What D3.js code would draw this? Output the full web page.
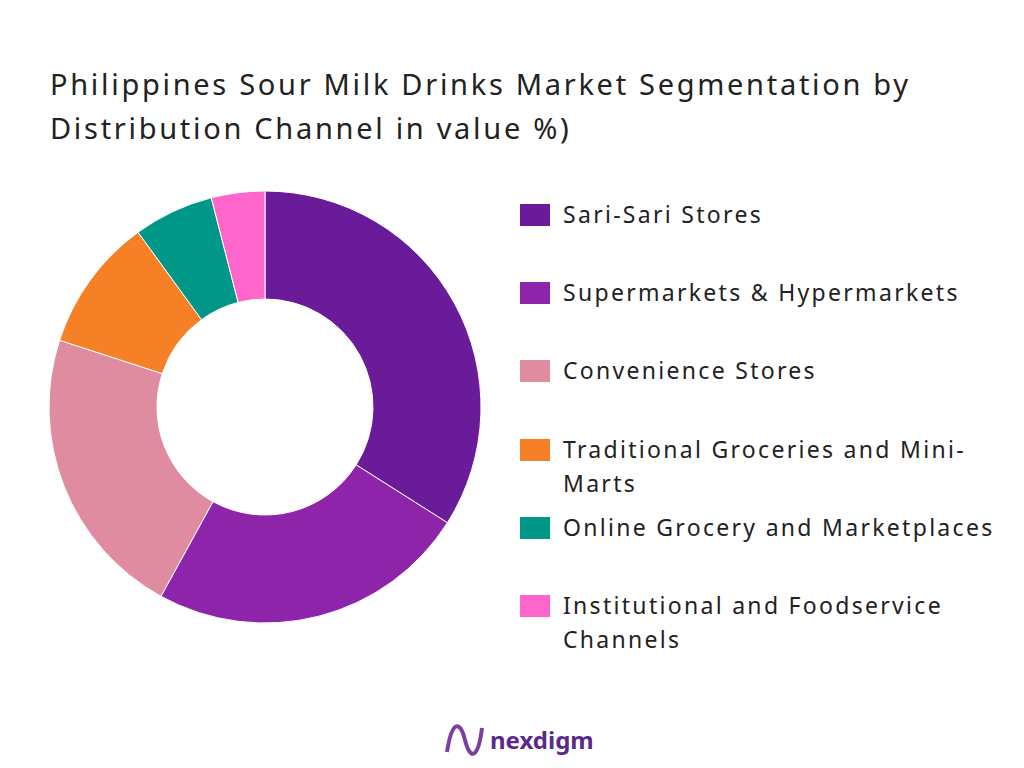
<!DOCTYPE html><html><head><meta charset="utf-8">
<script src="https://cdn.jsdelivr.net/npm/d3@7"></script>
<style>body{margin:0;background:#fff;}svg{display:block;font-family:"Noto Sans",sans-serif;}</style></head><body>
<svg id="c" width="1024" height="768"></svg>
<script>
const categories=["Sari-Sari Stores","Supermarkets & Hypermarkets","Convenience Stores","Traditional Groceries and Mini-Marts","Online Grocery and Marketplaces","Institutional and Foodservice Channels"];
const values=[34,24,22,10,6,4];
const colors=["#6A1B9A","#8E24AA","#E08CA0","#F58025","#009688","#FF66CC"];
const legendLines=[["Sari-Sari Stores"],["Supermarkets & Hypermarkets"],["Convenience Stores"],["Traditional Groceries and Mini-","Marts"],["Online Grocery and Marketplaces"],["Institutional and Foodservice","Channels"]];
const svg=d3.select("#c");
svg.append("text").attr("x",50).attr("y",95).attr("font-size",29).attr("letter-spacing",2.7).attr("fill","#222").text("Philippines Sour Milk Drinks Market Segmentation by");
svg.append("text").attr("x",50).attr("y",139).attr("font-size",29).attr("letter-spacing",2.7).attr("fill","#222").text("Distribution Channel in value %)");
const pie=d3.pie().sort(null).value(d=>d);
const arc=d3.arc().innerRadius(108).outerRadius(216);
const g=svg.append("g").attr("transform","translate(265,407)");
g.selectAll("path").data(pie(values)).join("path").attr("d",arc).attr("fill",(d,i)=>colors[i]).attr("stroke","#fff").attr("stroke-width",1);
const ly=[215,293,371,450,528,606];
const lg=svg.append("g");
categories.forEach((c,i)=>{
  lg.append("rect").attr("x",520).attr("y",ly[i]-11).attr("width",30).attr("height",22).attr("fill",colors[i]);
  legendLines[i].forEach((t,j)=>lg.append("text").attr("x",563).attr("y",ly[i]+8+j*34).attr("font-size",23).attr("letter-spacing",2.3).attr("fill","#222").text(t));
});
svg.append("text").attr("x",490).attr("y",749).attr("font-size",24).attr("font-weight","bold").attr("fill","#5a2a8a").text("nexdigm");
svg.append("path").attr("d","M447,752 C452,720 460,720 465,740 C470,760 478,760 482,728").attr("fill","none").attr("stroke","#7b3fa0").attr("stroke-width",4);
</script></body></html>
